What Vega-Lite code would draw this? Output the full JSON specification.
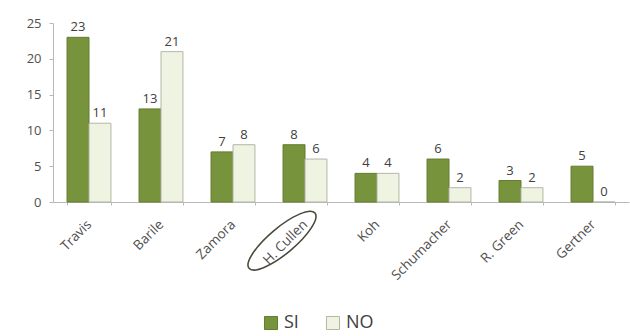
{
  "$schema": "https://vega.github.io/schema/vega-lite/v6.json",
  "autosize": {"type": "none"},
  "width": 576,
  "height": 179,
  "padding": {"left": 53, "top": 23, "right": 1, "bottom": 134},
  "background": "white",
  "config": {
    "view": {"stroke": null},
    "font": "Open Sans"
  },
  "data": {
    "values": [
      {"candidato": "Travis", "risposta": "SI", "voti": 23},
      {"candidato": "Travis", "risposta": "NO", "voti": 11},
      {"candidato": "Barile", "risposta": "SI", "voti": 13},
      {"candidato": "Barile", "risposta": "NO", "voti": 21},
      {"candidato": "Zamora", "risposta": "SI", "voti": 7},
      {"candidato": "Zamora", "risposta": "NO", "voti": 8},
      {"candidato": "H. Cullen", "risposta": "SI", "voti": 8},
      {"candidato": "H. Cullen", "risposta": "NO", "voti": 6},
      {"candidato": "Koh", "risposta": "SI", "voti": 4},
      {"candidato": "Koh", "risposta": "NO", "voti": 4},
      {"candidato": "Schumacher", "risposta": "SI", "voti": 6},
      {"candidato": "Schumacher", "risposta": "NO", "voti": 2},
      {"candidato": "R. Green", "risposta": "SI", "voti": 3},
      {"candidato": "R. Green", "risposta": "NO", "voti": 2},
      {"candidato": "Gertner", "risposta": "SI", "voti": 5},
      {"candidato": "Gertner", "risposta": "NO", "voti": 0}
    ]
  },
  "encoding": {
    "x": {
      "field": "candidato",
      "type": "nominal",
      "sort": null,
      "scale": {"paddingInner": 0.39, "paddingOuter": 0.195},
      "axis": {
        "title": null,
        "labelAngle": -45,
        "labelAlign": "right",
        "labelBaseline": "middle",
        "labelFontSize": 13.5,
        "labelColor": "#505050",
        "labelPadding": 17,
        "domainColor": "#b8b8b8",
        "tickColor": "#b8b8b8",
        "tickSize": 3,
        "tickBand": "extent"
      }
    },
    "y": {
      "field": "voti",
      "type": "quantitative",
      "scale": {"domain": [0, 25], "nice": false},
      "axis": {
        "title": null,
        "values": [0, 5, 10, 15, 20, 25],
        "grid": false,
        "labelFontSize": 13,
        "labelColor": "#505050",
        "labelPadding": 8,
        "domainColor": "#b8b8b8",
        "tickColor": "#b8b8b8",
        "tickSize": 4
      }
    }
  },
  "layer": [
    {
      "mark": {"type": "bar", "strokeWidth": 1},
      "encoding": {
        "xOffset": {"field": "risposta", "sort": ["SI", "NO"]},
        "color": {
          "field": "risposta",
          "type": "nominal",
          "sort": ["SI", "NO"],
          "scale": {"domain": ["SI", "NO"], "range": ["#77933c", "#eef3e2"]},
          "legend": {
            "title": null,
            "orient": "none",
            "direction": "horizontal",
            "legendX": 209,
            "legendY": 291,
            "symbolType": "square",
            "symbolSize": 170,
            "symbolStrokeWidth": 1,
            "labelFontSize": 18,
            "labelColor": "#404040",
            "columnPadding": 25,
            "labelOffset": 4
          }
        },
        "stroke": {
          "field": "risposta",
          "type": "nominal",
          "scale": {"domain": ["SI", "NO"], "range": ["#627d2f", "#b3b6a8"]},
          "legend": null
        }
      }
    },
    {
      "mark": {"type": "text", "dy": -10, "fontSize": 13, "color": "#404040"},
      "encoding": {
        "xOffset": {"field": "risposta", "sort": ["SI", "NO"]},
        "text": {"field": "voti", "type": "quantitative"}
      }
    },
    {
      "transform": [{"filter": "datum.candidato === 'H. Cullen' && datum.risposta === 'SI'"}],
      "mark": {
        "type": "point",
        "shape": "M 1 0 C 1 0.1657 0.5523 0.3 0 0.3 C -0.5523 0.3 -1 0.1657 -1 0 C -1 -0.1657 -0.5523 -0.3 0 -0.3 C 0.5523 -0.3 1 -0.1657 1 0 Z",
        "size": 7400,
        "angle": -40,
        "filled": false,
        "stroke": "#4a4a3a",
        "strokeWidth": 1.6,
        "opacity": 1,
        "xOffset": -23
      },
      "encoding": {
        "y": {"datum": -5.4}
      }
    }
  ]
}
